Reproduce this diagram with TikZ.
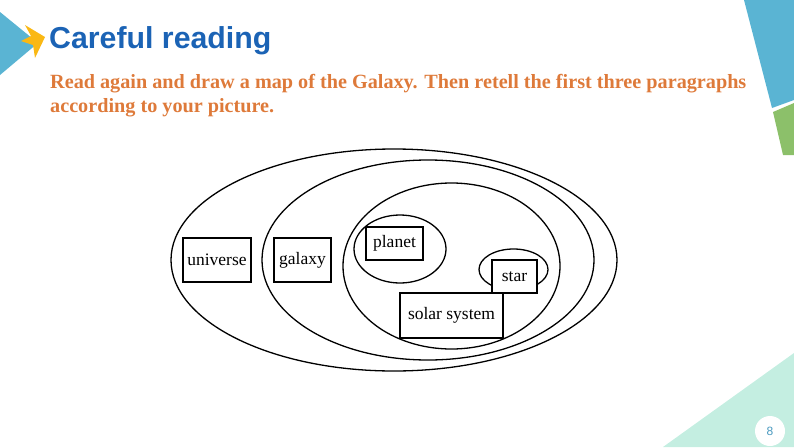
\documentclass[tikz,border=0pt]{standalone}
\usepackage{fontspec}
\setmainfont{Liberation Serif}
\newfontfamily\titlefont{Liberation Sans}
\usetikzlibrary{shapes.geometric}
\definecolor{titleblue}{RGB}{27,99,181}
\definecolor{orangetxt}{RGB}{222,122,58}
\definecolor{decoblue}{RGB}{90,180,211}
\definecolor{decogreen}{RGB}{140,192,106}
\definecolor{mint}{RGB}{196,238,225}
\definecolor{yellowarrow}{RGB}{250,184,20}
\definecolor{numteal}{RGB}{74,154,192}
\tikzset{
  ring/.style={line width=1.3pt},
  conceptbox/.style={draw, fill=white, line width=1.3pt, inner sep=0pt,
    font=\fontsize{17.5}{20}\selectfont, text=black},
  instr/.style={anchor=base west, inner sep=0pt, text=orangetxt,
    font=\fontsize{20.2}{24}\selectfont\bfseries}
}
\begin{document}
\begin{tikzpicture}[x=1pt,y=-1pt]
\useasboundingbox (0,0) rectangle (794,447);
% decorations
\fill[decoblue] (0,12) -- (38,43) -- (0,75) -- cycle;
\fill[yellowarrow] (25,25) -- (45,37) -- (35,58) -- (33,45) -- (21,41) -- (31,36) -- cycle;
\fill[decoblue] (744,0) -- (794,0) -- (794,100) -- (772,108) -- cycle;
\fill[decogreen] (773,112) -- (794,103) -- (794,155) -- (783,155) -- cycle;
\fill[mint] (663,447) -- (794,353) -- (794,447) -- cycle;
\node[circle, fill=white, minimum size=30pt, inner sep=0pt] (pagenum) at (770,431)
  {\titlefont\fontsize{12}{14}\selectfont\color{numteal}8};
% title
\node[anchor=base west, inner sep=0pt, text=titleblue,
  font=\titlefont\fontsize{30.3}{34}\selectfont\bfseries] (title) at (49,48) {Careful reading};
\node[instr] (line1) at (50,88) {Read again and draw a map of the Galaxy. Then retell the first three paragraphs};
\node[instr] (line2) at (50,112) {according to your picture.};
% ellipses
\draw[ring] (394,260) ellipse [x radius=223, y radius=111];
\draw[ring] (428,260) ellipse [x radius=166, y radius=100];
\draw[ring] (451.5,266) ellipse [x radius=108.5, y radius=83];
\draw[ring] (400,249) ellipse [x radius=46, y radius=34];
\draw[ring] (513.5,269.5) ellipse [x radius=34.5, y radius=20.5];
% boxes
\node[conceptbox, minimum width=68pt, minimum height=44pt] (universe) at (217,260) {universe};
\node[conceptbox, minimum width=57pt, minimum height=44pt] (galaxy) at (302.5,260) {galaxy};
\node[conceptbox, minimum width=57pt, minimum height=33pt] (planet) at (394.5,243.5) {planet};
\node[conceptbox, minimum width=45pt, minimum height=33pt] (star) at (514.5,276.5) {star};
\node[conceptbox, minimum width=103pt, minimum height=45pt] (solar) at (451.5,315.5) {solar system};
\end{tikzpicture}
\end{document}
